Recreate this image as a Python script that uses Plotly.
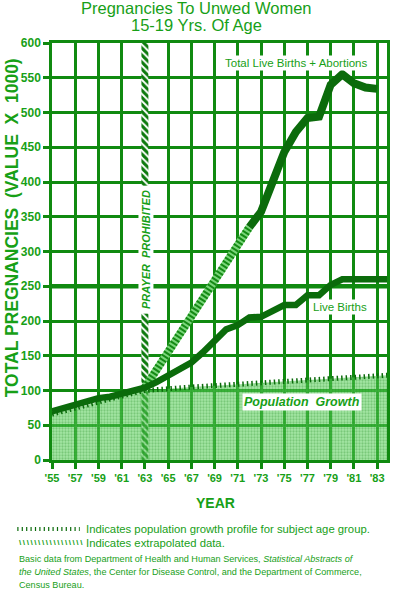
import plotly.graph_objects as go

# ---------------- data ----------------
YEARS_LIVE = list(range(1955, 1985))
LIVE_BIRTHS = [70, 75, 80, 85, 89, 91, 95, 99, 104, 112,
               122, 132, 140, 155, 172, 188, 194, 205, 206, 214,
               223, 223, 237, 237, 252, 260, 260, 260, 260, 260]

YEARS_TOTAL = list(range(1972, 1984))
TOTAL_BIRTHS_ABORTIONS = [335, 357, 400, 443, 472, 492, 494, 540, 555, 542, 536, 534]

YEARS_EXTRAP = [1963, 1972]
EXTRAPOLATED = [104, 335]

YEARS_POP = [1955, 1957, 1959, 1961, 1963, 1965, 1967, 1969, 1971, 1973,
             1975, 1977, 1979, 1981, 1983, 1984]
POPULATION = [66, 75, 84, 92, 100, 103, 105, 107, 109, 111,
              113, 115, 117, 119, 121, 122]

PRAYER_YEAR = 1963

X_TICKVALS = list(range(1955, 1984, 2))
X_TICKTEXT = ["'" + str(y)[2:] for y in X_TICKVALS]
Y_TICKVALS = list(range(0, 601, 50))
Y_MAX = 600

# ---------------- styling ----------------
FONT = "Liberation Sans, Arial, Helvetica, sans-serif"
TEXT = "#17a017"
GRID = "#108a10"
LINE = "#0b6b0b"

fig = go.Figure()

# population growth area
fig.add_trace(go.Scatter(
    x=YEARS_POP, y=POPULATION, mode="lines", fill="tozeroy",
    fillcolor="rgba(80,205,80,0.6)",
    fillpattern=dict(shape=".", fgcolor="rgba(20,130,20,0.6)",
                     bgcolor="rgba(90,210,90,0.55)", size=3, solidity=0.45),
    line=dict(color=LINE, width=5, dash="1.5px,3px"),
    hoverinfo="skip"))

# "prayer prohibited" marker at 1963
fig.add_trace(go.Bar(
    x=[PRAYER_YEAR], y=[Y_MAX], width=0.6,
    marker=dict(color=LINE,
                pattern=dict(shape="\\", fgcolor="#0d7a0d", bgcolor="#ffffff",
                             size=5, solidity=0.6, fillmode="replace"),
                line=dict(width=0)),
    hoverinfo="skip"))

# extrapolated segment (light band + dark stripes)
fig.add_trace(go.Scatter(
    x=YEARS_EXTRAP, y=EXTRAPOLATED, mode="lines",
    line=dict(color="#7ad67a", width=8), hoverinfo="skip"))
fig.add_trace(go.Scatter(
    x=YEARS_EXTRAP, y=EXTRAPOLATED, mode="lines",
    line=dict(color="#158a15", width=8, dash="2px,2px"), hoverinfo="skip"))

# live births
fig.add_trace(go.Scatter(
    x=YEARS_LIVE, y=LIVE_BIRTHS, mode="lines",
    line=dict(color=LINE, width=6.5), hoverinfo="skip"))

# total live births + abortions
fig.add_trace(go.Scatter(
    x=YEARS_TOTAL, y=TOTAL_BIRTHS_ABORTIONS, mode="lines",
    line=dict(color=LINE, width=8), hoverinfo="skip"))

axis_common = dict(
    showgrid=True, gridcolor=GRID, gridwidth=2.5,
    showline=True, linecolor=GRID, linewidth=2.5, mirror=True,
    zeroline=False, ticks="outside", ticklen=6, tickwidth=2.5,
    tickcolor=GRID, fixedrange=True,
)

fig.update_layout(
    width=398, height=596,
    margin=dict(l=52, r=8, t=43, b=136),
    paper_bgcolor="white", plot_bgcolor="white",
    showlegend=False, barmode="overlay",
    font=dict(family=FONT, color=TEXT),
    xaxis=dict(range=[1955, 1983.85], tickvals=X_TICKVALS, ticktext=X_TICKTEXT,
               tickfont=dict(family=FONT, size=11, color=TEXT, weight="bold"),
               **axis_common),
    yaxis=dict(range=[0, Y_MAX], tickvals=Y_TICKVALS,
               tickfont=dict(family=FONT, size=12, color=TEXT, weight="bold"),
               **axis_common),
)

# heavier 250 line
fig.add_shape(type="line", xref="paper", x0=0, x1=1, yref="y", y0=250, y1=250,
              line=dict(color=GRID, width=4.5), layer="below")

# legend swatch (population ticks)
fig.add_shape(type="line", xref="paper", yref="paper",
              x0=-0.1036, x1=0.0828, y0=-0.1655, y1=-0.1655,
              line=dict(color=LINE, width=4, dash="1.2px,3.2px"))

ann = []
def A(text, x, y, size, xref="paper", yref="paper", bold=False, italic=False,
      xanchor="center", yanchor="middle", angle=0, bg=None, pad=1):
    ann.append(dict(text=text, x=x, y=y, xref=xref, yref=yref, showarrow=False,
                    xanchor=xanchor, yanchor=yanchor, textangle=angle,
                    bgcolor=bg, borderpad=pad,
                    font=dict(family=FONT, size=size, color=TEXT,
                              weight="bold" if bold else "normal",
                              style="italic" if italic else "normal")))

A("Pregnancies To Unwed Women", 0.432, 1.084, 16.5)
A("15-19 Yrs. Of Age", 0.432, 1.042, 16.5)
A("TOTAL PREGNANCIES\u00a0\u00a0(VALUE\u00a0\u00a0X\u00a0\u00a01000)", -0.1183, 0.5564, 17.5,
  bold=True, angle=-90)
A("YEAR", 0.488, -0.1031, 14, bold=True)

A("Total Live Births + Abortions", 1976.0, 571, 11.5, xref="x", yref="y", bg="white")
A("Live Births", 1979.8, 220, 11.5, xref="x", yref="y", bg="white")
A("Population\u00a0\u00a0Growth", 1976.5, 83.5, 12.5, xref="x", yref="y",
  bold=True, italic=True, bg="white")
A("\u00a0PRAYER\u00a0\u00a0PROHIBITED\u00a0", 1963.1, 302, 11, xref="x", yref="y",
  bold=True, italic=True, angle=-90, bg="white", pad=1)

A("Indicates population growth profile for subject age group.", 0.0947, -0.1655,
  11.3, xanchor="left")
A("\\\u2009" * 17, -0.1036, -0.199, 8, xanchor="left", bold=True)
A("Indicates extrapolated data.", 0.0947, -0.199, 11.3, xanchor="left")

A("Basic data from Department of Health and Human Services, "
  "<i>Statistical Abstracts of</i>", -0.1036, -0.2374, 9.1, xanchor="left")
A("<i>the United States</i>, the Center for Disease Control, and the Department of Commerce,",
  -0.1036, -0.2686, 9.1, xanchor="left")
A("Census Bureau.", -0.1036, -0.2998, 9.1, xanchor="left")

fig.update_layout(annotations=ann)

fig.write_html("out.html",
               config={"displayModeBar": False},
               post_script="document.body.style.margin='0';"
                           "document.body.style.padding='0';")
